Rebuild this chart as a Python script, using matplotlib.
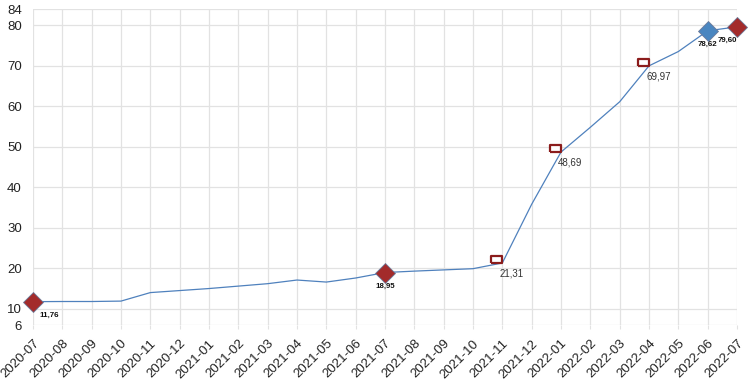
import matplotlib.pyplot as plt

plt.rcParams['font.family'] = ['Liberation Sans', 'DejaVu Sans']

months = ['2020-07', '2020-08', '2020-09', '2020-10', '2020-11', '2020-12',
          '2021-01', '2021-02', '2021-03', '2021-04', '2021-05', '2021-06',
          '2021-07', '2021-08', '2021-09', '2021-10', '2021-11', '2021-12',
          '2022-01', '2022-02', '2022-03', '2022-04', '2022-05', '2022-06',
          '2022-07']
values = [11.76, 11.8, 11.8, 11.9, 14.0, 14.5, 15.0, 15.6, 16.2, 17.1, 16.6, 17.6,
          18.95, 19.3, 19.6, 19.9, 21.31, 35.8, 48.69, 54.8, 61.1, 69.97, 73.5,
          78.62, 79.60]

# highlighted points (month index, value)
red_diamonds = [(0, 11.76), (12, 18.95), (24, 79.60)]
blue_diamonds = [(23, 78.62)]
boxes = [(16, 21.31), (18, 48.69), (21, 69.97)]

yticks = [6, 10, 20, 30, 40, 50, 60, 70, 80, 84]

fig = plt.figure(figsize=(7.5, 3.9), dpi=100)
ax = fig.add_axes([33 / 750, 1 - 325 / 390, 704 / 750, 316 / 390])

x = list(range(len(months)))
ax.plot(x, values, color='#4f81bd', lw=0.9, zorder=3)

# open boxes sit with their bottom-right corner on the point
box = [(-11, 0), (0, 0), (0, 7), (-11, 7), (-11, 0)]
for i, v in boxes:
    ax.plot(i, v, marker=box, ms=15.8, mfc='white', mec='#8b1c1c', mew=1.6,
            ls='none', zorder=4, clip_on=False)
    ax.annotate(f'{v:.2f}'.replace('.', ','), (i, v), xytext=(-2, -4),
                textcoords='offset points', ha='left', va='top',
                fontsize=7.0, color='#333333')

for pts, fc in [(red_diamonds, '#a32b2b'), (blue_diamonds, '#4a86c0')]:
    for i, v in pts:
        ax.plot(i, v, marker='D', ms=10, mfc=fc, mec='#6d7a99', mew=0.6,
                ls='none', zorder=5, clip_on=False)
        if i == 0:
            ha, dx = 'left', 5
        elif i == len(months) - 1:
            ha, dx = 'right', 0
        else:
            ha, dx = 'center', 0
        ax.annotate(f'{v:.2f}'.replace('.', ','), (i, v), xytext=(dx, -10),
                    textcoords='offset points', ha=ha, va='center',
                    fontsize=5.7, fontweight='bold', color='#111111')

ax.set_xlim(0, len(months) - 1)
ax.set_ylim(6, 84)
ax.set_yticks(yticks)
ax.set_xticks(x)
ax.set_xticklabels(months, rotation=45, ha='right', va='top',
                   rotation_mode='anchor', fontsize=9.5, color='#222222')
ax.tick_params(axis='x', length=3, color='#e2e2e2', pad=6)
ax.tick_params(axis='y', length=0, pad=8, labelsize=9.5, labelcolor='#222222')
ax.grid(True, color='#e2e2e2', lw=0.9)
ax.set_axisbelow(True)
for s in ax.spines.values():
    s.set_visible(False)

fig.savefig('out.png', dpi=100)
